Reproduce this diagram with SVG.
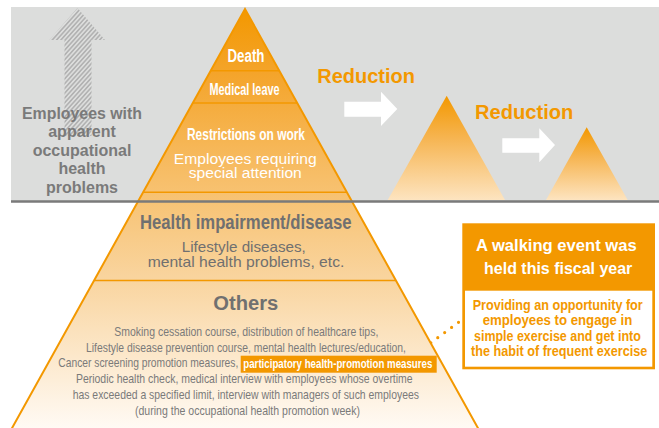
<svg xmlns="http://www.w3.org/2000/svg" width="659" height="428" viewBox="0 0 659 428">
<defs>
<style>
.cb{font-family:"Liberation Sans Narrow","Liberation Sans",Arial,sans-serif;font-weight:bold;}
.cr{font-family:"Liberation Sans Narrow","Liberation Sans",Arial,sans-serif;font-weight:normal;}
.wb{font-family:"Liberation Sans",Arial,sans-serif;font-weight:bold;}
.wr{font-family:"Liberation Sans",Arial,sans-serif;font-weight:normal;}
.white{fill:#ffffff;}
.gray{fill:#707070;}
.lgray{fill:#7a7a7a;}
.org{fill:#F39800;}
.band{stroke:#F39800;stroke-width:1.6;fill:none;}
</style>
<linearGradient id="gMain" gradientUnits="userSpaceOnUse" x1="0" y1="9" x2="0" y2="428">
<stop offset="0" stop-color="#F39800"/>
<stop offset="0.15" stop-color="#F4A42A"/>
<stop offset="0.4" stop-color="#F7BE68"/>
<stop offset="0.65" stop-color="#F9D5A0"/>
<stop offset="1" stop-color="#FFFAF4"/>
</linearGradient>
<linearGradient id="gSmall" x1="0" y1="0" x2="0" y2="1">
<stop offset="0" stop-color="#F39800"/>
<stop offset="0.4" stop-color="#F6B450"/>
<stop offset="1" stop-color="#FDE4C0"/>
</linearGradient>
<pattern id="hatch" width="3.2" height="3.2" patternUnits="userSpaceOnUse" patternTransform="rotate(42)">
<line x1="1.6" y1="0" x2="1.6" y2="3.2" stroke="#9c9c9c" stroke-width="1.05"/>
</pattern>
</defs>

<rect id="background-band" x="11" y="7" width="648" height="194" fill="#DCDDDC"/>

<g id="trend-arrow">
<polygon points="77.5,8 105,40 91.5,40 91.5,136 64.5,136 64.5,40 49.3,40" fill="url(#hatch)"/>
</g>

<g id="label-employees" text-anchor="middle" class="wb lgray" font-size="16">
<text x="82" y="118.5" textLength="120" lengthAdjust="spacingAndGlyphs">Employees with</text>
<text x="82" y="137">apparent</text>
<text x="82" y="155.5">occupational</text>
<text x="82" y="174">health</text>
<text x="82" y="192.5">problems</text>
</g>

<g id="pyramid-small-1">
<polygon points="446.7,95.7 505,200 387.7,200" fill="url(#gSmall)"/>
</g>
<g id="pyramid-small-2">
<polygon points="586.7,127.3 627.7,200 546,200" fill="url(#gSmall)"/>
</g>

<g id="connectors">
<polygon id="arrow-1" points="344.3,101.7 381,101.7 381,91.7 397.3,109 381,126 381,116.7 344.3,116.7" fill="#ffffff"/>
<polygon id="arrow-2" points="502.3,138.3 539.3,138.3 539.3,128.3 555,145 539.3,162.3 539.3,152.7 502.3,152.7" fill="#ffffff"/>
<path id="dotted-link" d="M417,353 L459,322" stroke="#F39800" stroke-width="3.2" stroke-linecap="round" stroke-dasharray="0 8.6" fill="none"/>
</g>

<g id="reduction-labels" class="wb org" font-size="20">
<text x="317.3" y="83" textLength="97.7" lengthAdjust="spacingAndGlyphs">Reduction</text>
<text x="475" y="119" textLength="98.3" lengthAdjust="spacingAndGlyphs">Reduction</text>
</g>

<g id="pyramid-main">
<polygon points="245,9 484.6,440 5.4,440" fill="url(#gMain)" stroke="#F39800" stroke-width="2" stroke-linejoin="miter"/>
<line class="band" x1="210.7" y1="70.7" x2="279.3" y2="70.7"/>
<line class="band" x1="192.7" y1="103" x2="297.3" y2="103"/>
<line class="band" x1="143.1" y1="192.3" x2="346.9" y2="192.3"/>
<line class="band" x1="94.1" y1="280.5" x2="395.9" y2="280.5"/>
</g>

<line id="baseline-divider" x1="11" y1="201.5" x2="659" y2="201.5" stroke="#7a7a7a" stroke-width="2.5"/>

<g id="level-death" text-anchor="middle">
<text x="246" y="62" class="cb white" font-size="18" textLength="37" lengthAdjust="spacingAndGlyphs">Death</text>
</g>
<g id="level-medical-leave" text-anchor="middle">
<text x="244.5" y="95" class="cb white" font-size="16" textLength="70" lengthAdjust="spacingAndGlyphs">Medical leave</text>
</g>
<g id="level-restrictions" text-anchor="middle">
<text x="246" y="140" class="cb white" font-size="16.5" textLength="118" lengthAdjust="spacingAndGlyphs">Restrictions on work</text>
<text x="245.3" y="163.5" class="wr white" font-size="14" textLength="143" lengthAdjust="spacingAndGlyphs">Employees requiring</text>
<text x="245.3" y="178" class="wr white" font-size="14" textLength="113" lengthAdjust="spacingAndGlyphs">special attention</text>
</g>
<g id="level-health" text-anchor="middle">
<text x="245.8" y="229.3" class="cb gray" font-size="20" textLength="211.7" lengthAdjust="spacingAndGlyphs">Health impairment/disease</text>
<text x="243.8" y="251.7" class="wr gray" font-size="14.5" textLength="124" lengthAdjust="spacingAndGlyphs">Lifestyle diseases,</text>
<text x="246" y="266.7" class="wr gray" font-size="14.5" textLength="196.7" lengthAdjust="spacingAndGlyphs">mental health problems, etc.</text>
</g>
<g id="level-others">
<text x="245.8" y="310" text-anchor="middle" class="wb gray" font-size="19.5" textLength="65" lengthAdjust="spacingAndGlyphs">Others</text>
<g class="cr lgray" font-size="13" text-anchor="middle">
<text x="246.3" y="336" textLength="264" lengthAdjust="spacingAndGlyphs">Smoking cessation course, distribution of healthcare tips,</text>
<text x="246" y="351.7" textLength="320" lengthAdjust="spacingAndGlyphs">Lifestyle disease prevention course, mental health lectures/education,</text>
<text x="244.3" y="383.3" textLength="336.7" lengthAdjust="spacingAndGlyphs">Periodic health check, medical interview with employees whose overtime</text>
<text x="245.8" y="399.3" textLength="346.3" lengthAdjust="spacingAndGlyphs">has exceeded a specified limit, interview with managers of such employees</text>
<text x="247.5" y="415" textLength="225" lengthAdjust="spacingAndGlyphs">(during the occupational health promotion week)</text>
</g>
<text x="58.3" y="367.3" class="cr lgray" font-size="13" textLength="180" lengthAdjust="spacingAndGlyphs">Cancer screening promotion measures,</text>
<rect x="240.7" y="355.7" width="196" height="17" fill="#F39800"/>
<text x="243.3" y="368.3" class="cb white" font-size="13" textLength="189" lengthAdjust="spacingAndGlyphs">participatory health-promotion measures</text>
</g>

<g id="walking-event-box">
<rect x="462.3" y="223.3" width="192.7" height="146" fill="#F39800"/>
<rect x="465" y="290.7" width="187.3" height="76" fill="#ffffff"/>
<g text-anchor="middle">
<text x="556.3" y="250.7" class="wb white" font-size="16" textLength="160.7" lengthAdjust="spacingAndGlyphs">A walking event was</text>
<text x="558.2" y="274" class="wb white" font-size="16" textLength="148.3" lengthAdjust="spacingAndGlyphs">held this fiscal year</text>
<text x="557.7" y="310" class="cb org" font-size="14" textLength="170" lengthAdjust="spacingAndGlyphs">Providing an opportunity for</text>
<text x="557.5" y="325" class="cb org" font-size="14" textLength="149.7" lengthAdjust="spacingAndGlyphs">employees to engage in</text>
<text x="557.4" y="340.5" class="cb org" font-size="14" textLength="166.7" lengthAdjust="spacingAndGlyphs">simple exercise and get into</text>
<text x="559.2" y="356" class="cb org" font-size="14" textLength="176.3" lengthAdjust="spacingAndGlyphs">the habit of frequent exercise</text>
</g>
</g>
</svg>
